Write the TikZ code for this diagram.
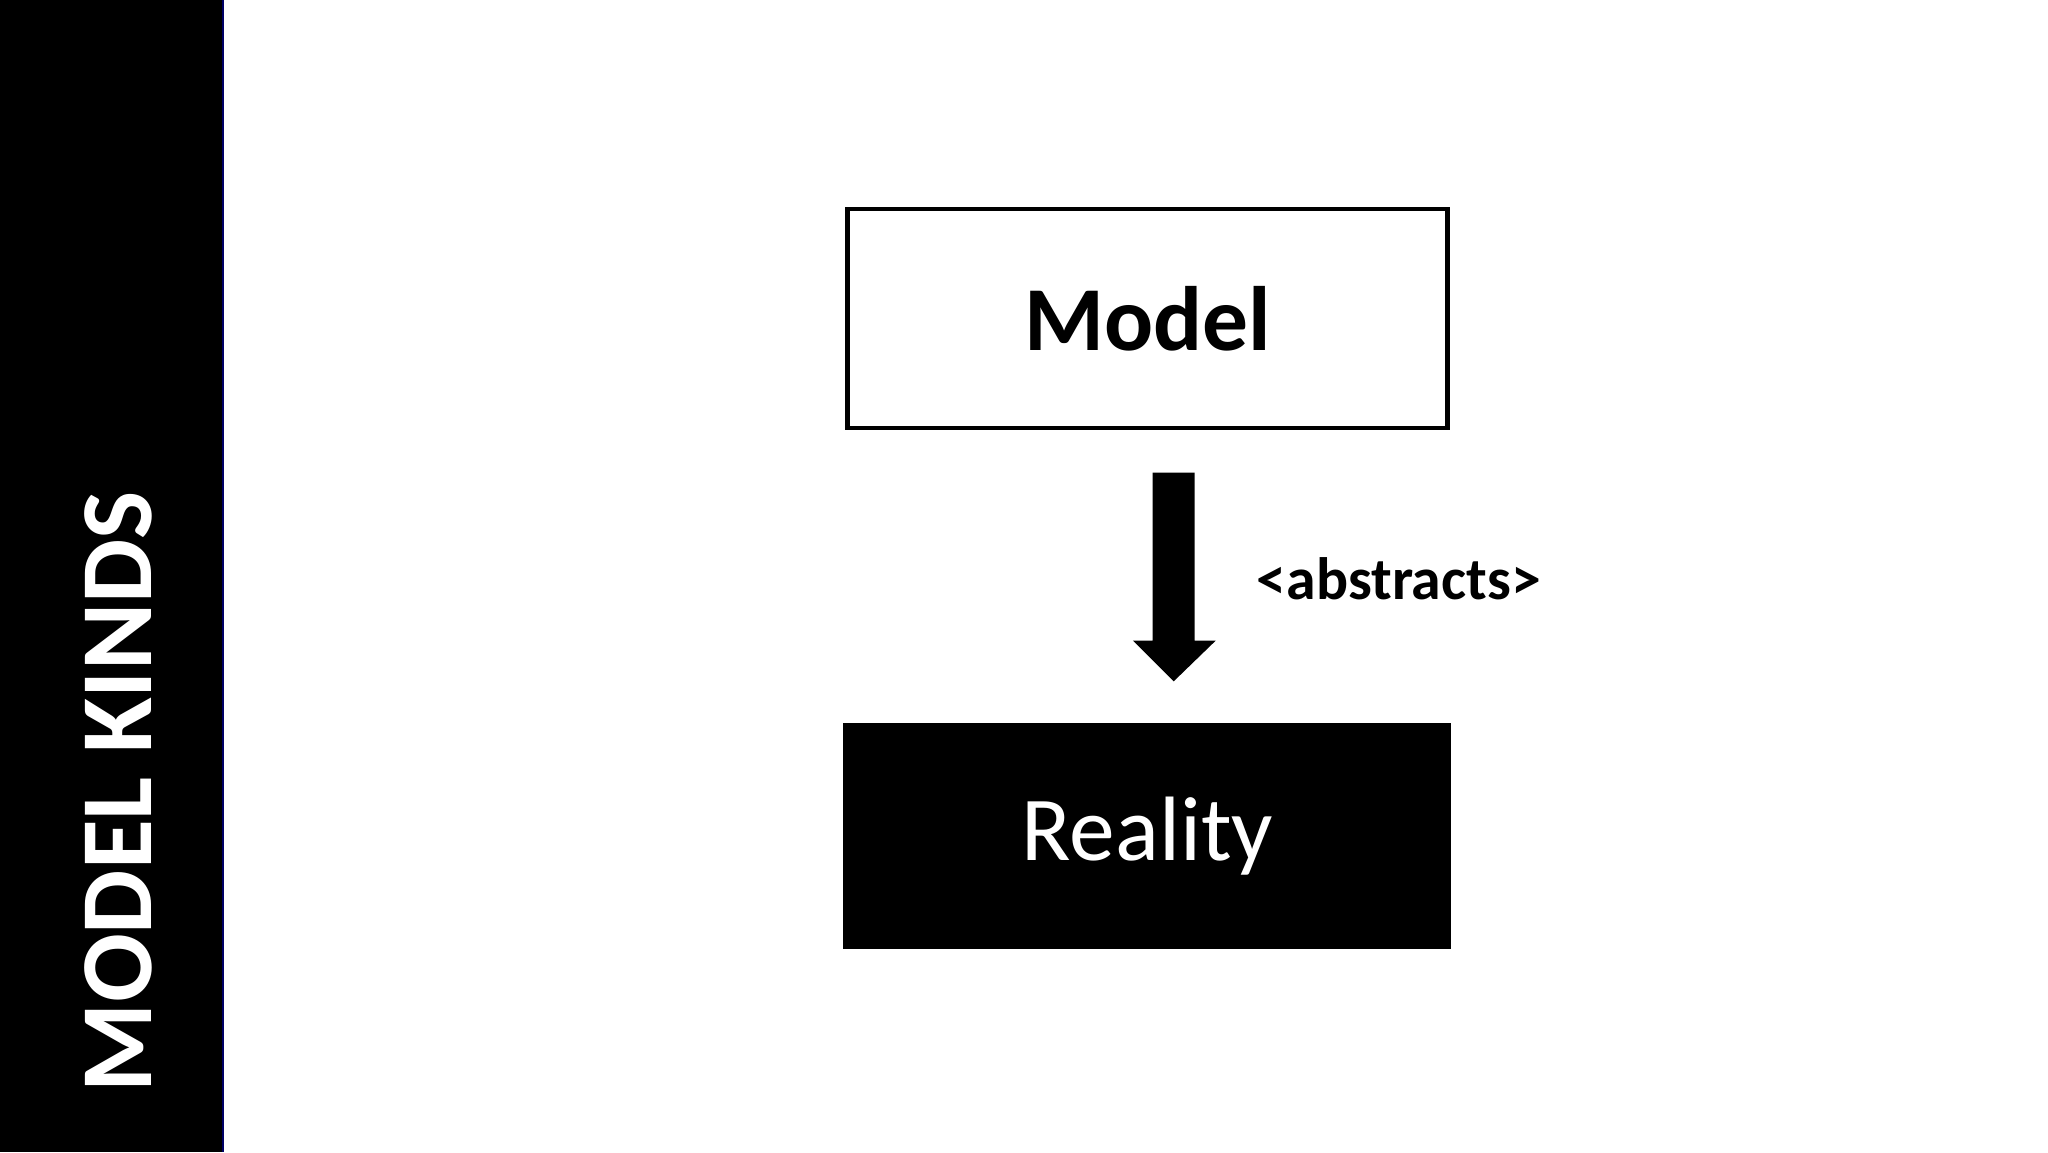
\documentclass[tikz,border=0pt]{standalone}
\usepackage{fontspec}
\setmainfont{Carlito}
\begin{document}
\begin{tikzpicture}[x=0.01313cm,y=-0.01313cm,
  box/.style={draw=black,line width=1.2pt,minimum width=457*0.01313cm,minimum height=167*0.01313cm,inner sep=0pt}]
\useasboundingbox (0,0) rectangle (1560,877.5);
\fill[black] (0,0) rectangle (170,877.5);
\draw[blue!40!black,line width=0.6pt] (170,0) -- (170,877.5);
\node[rotate=90,text=white,font=\bfseries\fontsize{29}{34}\selectfont] (side) at (90,603) {MODEL KINDS};
\node[box,fill=white] (model) at (874,242.5) {\bfseries\fontsize{26}{30}\selectfont Model};
\node[box,fill=black,text=white,minimum width=460*0.01313cm,minimum height=169*0.01313cm] (reality) at (874,636.5) {\fontsize{26}{30}\selectfont Reality};
\fill[black] (878,360) -- (910,360) -- (910,488) -- (926,488) -- (894,519) -- (863,488) -- (878,488) -- cycle;
\coordinate (arr) at (910,424);
\node[anchor=west,font=\bfseries\fontsize{17}{20}\selectfont] (lbl) at (948,441) {<abstracts>};
\end{tikzpicture}
\end{document}
